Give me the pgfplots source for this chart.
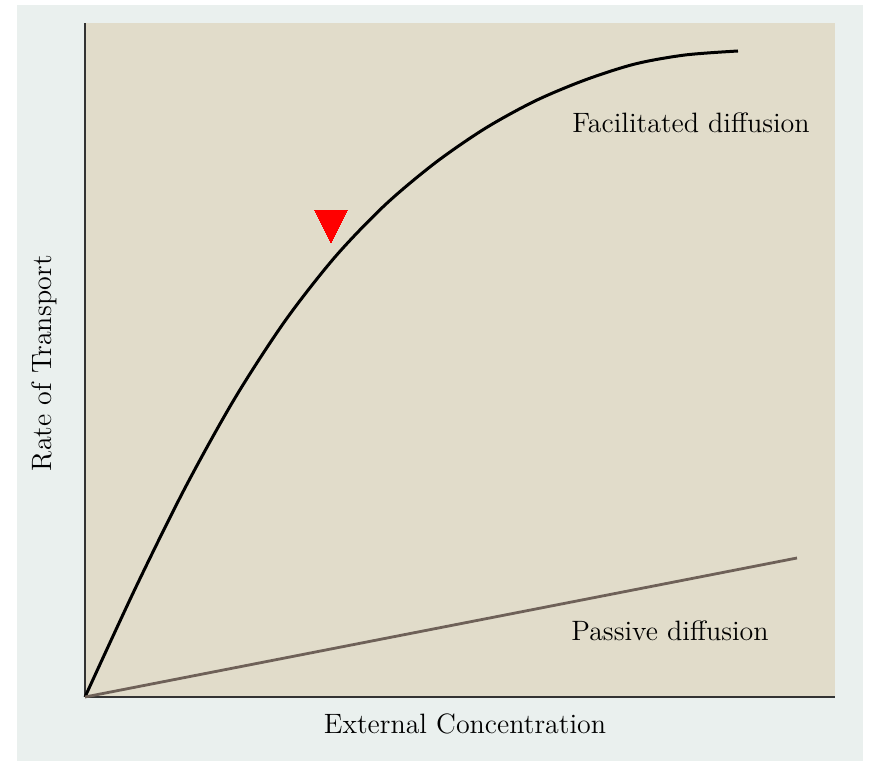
\documentclass[border=0pt]{standalone}
\usepackage{pgfplots}
\pgfplotsset{compat=1.18}
\definecolor{beige}{HTML}{E1DCCA}
\definecolor{page}{HTML}{EAF0EE}
\definecolor{passive}{HTML}{6E6158}
\newcommand{\lblfont}{\fontsize{14}{17}\selectfont}
\begin{document}
\begin{tikzpicture}
\fill[white] (0,0) rectangle (434.5pt,380.5pt);
\fill[page] (8.5pt,0) rectangle (431.5pt,378pt);
\begin{axis}[
  scale only axis,
  width=375pt, height=337pt,
  at={(42.5pt,32pt)}, anchor=south west,
  xmin=0, xmax=750, ymin=0, ymax=674,
  axis x line*=bottom, axis y line*=left,
  axis line style={-, draw=black!80, line width=0.8pt},
  xtick=\empty, ytick=\empty,
  axis background/.style={fill=beige},
  clip=false,
]
\addplot[black, line width=1.5pt, smooth] coordinates {
 (0,0) (50,108) (100,209) (150,299) (200,376) (250,440) (300,492)
 (350,534) (400,568.5) (450,596) (500,617) (550,633) (600,642) (653,646)
};
\addplot[passive, line width=1.4pt] coordinates {(0,0) (712,139)};
\addplot[only marks, mark=triangle*, mark size=9.24pt,
  mark options={fill=red, draw=red, line width=0pt, yscale=1.19, rotate=180}]
  coordinates {(246,476)};
\node[anchor=base, font=\lblfont] at (axis cs:606,564) {Facilitated diffusion};
\node[anchor=base, font=\lblfont] at (axis cs:585,56) {Passive diffusion};
\node[anchor=base, font=\lblfont] at (axis cs:380,-37) {External Concentration};
\node[anchor=base, rotate=90, font=\lblfont] at (axis cs:-33,334) {Rate of Transport};
\end{axis}
\end{tikzpicture}
\end{document}
